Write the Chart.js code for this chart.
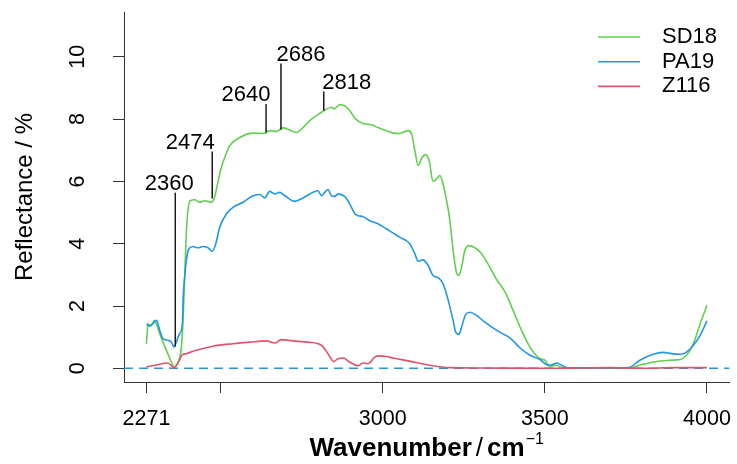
<!DOCTYPE html>
<html>
<head>
<meta charset="utf-8">
<script src="https://cdn.jsdelivr.net/npm/chart.js@4.4.0/dist/chart.umd.min.js"></script>
<style>
html, body { margin: 0; padding: 0; background: #fff; }
</style>
</head>
<body>
<canvas id="mycan1" width="737" height="464"></canvas>
<script>
var FONT = '"Liberation Sans", Arial, sans-serif';

// spectra as [wavenumber, reflectance]
var sd18 = [[2271,0.79],[2276,1.43],[2283,1.38],[2289,1.43],[2296,1.54],[2303,1.38],[2312,1.11],[2322,0.84],[2337,0.47],[2348,0.2],[2356,0.04],[2363,0.1],[2371,0.26],[2379,0.68],[2384,1.54],[2389,2.93],[2394,4.32],[2399,5.06],[2406,5.38],[2420,5.41],[2435,5.33],[2451,5.38],[2461,5.36],[2472,5.33],[2481,5.49],[2492,6.0],[2502,6.45],[2512,6.75],[2528,7.15],[2559,7.41],[2600,7.55],[2636,7.54],[2645,7.6],[2656,7.63],[2672,7.6],[2692,7.72],[2713,7.65],[2734,7.57],[2754,7.73],[2780,8.0],[2811,8.22],[2826,8.32],[2842,8.38],[2850,8.33],[2867,8.46],[2883,8.43],[2898,8.27],[2917,8.0],[2939,7.86],[2965,7.82],[2985,7.73],[3011,7.63],[3032,7.55],[3052,7.54],[3078,7.63],[3089,7.52],[3099,6.99],[3109,6.51],[3119,6.72],[3130,6.86],[3143,6.67],[3155,6.0],[3166,6.08],[3176,6.19],[3186,5.92],[3197,5.38],[3207,4.74],[3217,3.78],[3227,3.09],[3235,2.98],[3243,3.25],[3253,3.78],[3266,3.94],[3284,3.87],[3305,3.68],[3330,3.25],[3351,2.85],[3377,2.45],[3402,1.86],[3428,1.22],[3454,0.68],[3485,0.31],[3500,0.26],[3515,0.06],[3536,0.1],[3552,0.02],[3600,0.01],[3700,0.0],[3762,0.02],[3803,0.13],[3845,0.22],[3886,0.26],[3917,0.28],[3937,0.42],[3958,0.79],[3979,1.43],[4000,2.02]];

var pa19 = [[2271,1.43],[2280,1.35],[2291,1.43],[2302,1.54],[2312,1.22],[2322,0.95],[2337,0.9],[2348,0.84],[2356,0.68],[2363,0.84],[2373,1.11],[2382,1.43],[2384,2.18],[2389,2.93],[2394,3.46],[2402,3.84],[2415,3.91],[2430,3.87],[2445,3.91],[2461,3.87],[2474,3.76],[2485,4.0],[2497,4.53],[2518,4.96],[2538,5.17],[2569,5.33],[2600,5.54],[2621,5.58],[2636,5.47],[2651,5.68],[2667,5.6],[2682,5.65],[2698,5.54],[2728,5.36],[2754,5.47],[2785,5.65],[2800,5.7],[2811,5.54],[2821,5.65],[2831,5.74],[2842,5.54],[2852,5.52],[2862,5.6],[2883,5.51],[2898,5.28],[2914,4.96],[2924,4.9],[2939,4.87],[2960,4.74],[2985,4.64],[3011,4.48],[3032,4.34],[3052,4.21],[3083,4.0],[3099,3.68],[3109,3.44],[3124,3.48],[3140,3.3],[3155,2.98],[3171,2.91],[3186,2.71],[3202,2.18],[3217,1.54],[3225,1.16],[3235,1.09],[3243,1.32],[3256,1.73],[3269,1.8],[3289,1.7],[3315,1.48],[3340,1.3],[3366,1.13],[3392,0.98],[3423,0.66],[3454,0.42],[3485,0.28],[3510,0.1],[3526,0.13],[3536,0.17],[3552,0.1],[3567,0.02],[3620,0.01],[3700,0.01],[3757,0.02],[3793,0.26],[3834,0.45],[3865,0.51],[3891,0.47],[3917,0.45],[3937,0.52],[3958,0.74],[3979,1.06],[4000,1.52]];

var z116 = [[2271,0.04],[2312,0.13],[2337,0.17],[2356,0.02],[2373,0.26],[2380,0.42],[2394,0.47],[2425,0.58],[2476,0.71],[2538,0.79],[2590,0.84],[2641,0.88],[2667,0.81],[2687,0.92],[2723,0.88],[2769,0.84],[2811,0.74],[2831,0.47],[2849,0.22],[2862,0.31],[2878,0.33],[2898,0.2],[2924,0.08],[2939,0.17],[2955,0.15],[2975,0.36],[2990,0.4],[3011,0.38],[3032,0.33],[3083,0.23],[3145,0.1],[3207,0.02],[3300,0.01],[3500,0.0],[3700,0.02],[3800,0.0],[3900,0.02],[4000,0.02]];

var seriesNames = ['SD18', 'PA19', 'Z116'];
var seriesColors = ['#61D04F', '#2297E6', '#DF536B'];

var xTicks = [2271, 2500, 3000, 3500, 4000];
var xTickLabels = ['2271', '', '3000', '3500', '4000'];
var yTicks = [0, 2, 4, 6, 8, 10];

// marked band positions
var peakWn = [2360, 2474, 2640, 2686, 2818];
var peakTop = [5.64, 6.96, 8.49, 9.79, 8.89];
var peakBottom = [0.7, 5.45, 7.57, 7.66, 8.27];
var peakLabelDx = [-6, -22, -20, 20, 23];

// R style 4% axis extension
var xMin = 2271 - 0.04 * (4000 - 2271), xMax = 4000 + 0.04 * (4000 - 2271);
var yMin = -0.44, yMax = 11.44;

function toPts(arr) {
  return arr.map(function (p) { return { x: p[0], y: p[1] }; });
}

function lineSet(label, data, color) {
  return {
    label: label, data: toPts(data), borderColor: color, backgroundColor: color,
    borderWidth: 1.6, pointRadius: 0, fill: false, tension: 0.3, cubicInterpolationMode: 'monotone'
  };
}

var extras = {
  id: 'extras',
  afterDatasetsDraw: function (chart) {
    var ctx = chart.ctx, xs = chart.scales.x, ys = chart.scales.y;
    ctx.save();

    // band markers
    ctx.strokeStyle = '#1a1a1a';
    ctx.lineWidth = 1.5;
    ctx.fillStyle = '#000';
    ctx.font = '22px ' + FONT;
    ctx.textAlign = 'center';
    ctx.textBaseline = 'middle';
    for (var i = 0; i < peakWn.length; i++) {
      var px = xs.getPixelForValue(peakWn[i]);
      var top = ys.getPixelForValue(peakTop[i]);
      ctx.beginPath();
      ctx.moveTo(px, top);
      ctx.lineTo(px, ys.getPixelForValue(peakBottom[i]));
      ctx.stroke();
      ctx.fillText(String(peakWn[i]), px + peakLabelDx[i], top - 8.5);
    }

    // legend
    ctx.textAlign = 'left';
    for (var j = 0; j < seriesNames.length; j++) {
      var ly = 37 + j * 24.7;
      ctx.strokeStyle = seriesColors[j];
      ctx.lineWidth = 1.6;
      ctx.beginPath();
      ctx.moveTo(598, ly);
      ctx.lineTo(640, ly);
      ctx.stroke();
      ctx.fillText(seriesNames[j], 662, ly);
    }

    // tick labels
    ctx.font = '21.5px ' + FONT;
    ctx.textAlign = 'center';
    xTicks.forEach(function (v, k) {
      if (xTickLabels[k]) ctx.fillText(xTickLabels[k], xs.getPixelForValue(v), 419);
    });
    yTicks.forEach(function (v) {
      ctx.save();
      ctx.translate(78, ys.getPixelForValue(v));
      ctx.rotate(-Math.PI / 2);
      ctx.fillText(String(v), 0, 0);
      ctx.restore();
    });

    // y title
    ctx.save();
    ctx.font = '24px ' + FONT;
    ctx.translate(25, (ys.top + ys.bottom) / 2);
    ctx.rotate(-Math.PI / 2);
    ctx.fillText('Reflectance / %', 0, 0);
    ctx.restore();

    // x title with superscript
    var parts = [
      { t: 'Wavenumber', f: 'bold 26px ' + FONT, dy: 0, gap: 4 },
      { t: '/', f: '26px ' + FONT, dy: 0, gap: 4 },
      { t: 'cm', f: 'bold 26px ' + FONT, dy: 0, gap: 1 },
      { t: '\u22121', f: '16px ' + FONT, dy: -12, gap: 0 }
    ];
    var total = 0;
    parts.forEach(function (p) { ctx.font = p.f; p.w = ctx.measureText(p.t).width; total += p.w + p.gap; });
    var tx = (xs.left + xs.right) / 2 - total / 2;
    ctx.textAlign = 'left';
    ctx.textBaseline = 'alphabetic';
    parts.forEach(function (p) {
      ctx.font = p.f;
      ctx.fillText(p.t, tx, 456 + p.dy);
      tx += p.w + p.gap;
    });

    ctx.restore();
  }
};

var ctx = document.getElementById('mycan1').getContext('2d');
var chart = new Chart(ctx, {
  type: 'line',
  data: {
    datasets: [
      lineSet(seriesNames[2], z116, seriesColors[2]),
      lineSet(seriesNames[1], pa19, seriesColors[1]),
      lineSet(seriesNames[0], sd18, seriesColors[0]),
      {
        label: 'zero', data: [{ x: xMin, y: 0 }, { x: xMax, y: 0 }],
        borderColor: '#2297E6', borderWidth: 1.5, borderDash: [9, 6], pointRadius: 0, fill: false
      }
    ]
  },
  plugins: [extras],
  options: {
    responsive: false,
    animation: false,
    devicePixelRatio: 1,
    layout: { padding: { left: 113, right: 7.6, top: 12, bottom: 71 } },
    plugins: { legend: { display: false }, tooltip: { enabled: false } },
    scales: {
      x: {
        type: 'linear', min: xMin, max: xMax,
        afterBuildTicks: function (scale) { scale.ticks = xTicks.map(function (v) { return { value: v }; }); },
        ticks: { display: false },
        grid: { drawOnChartArea: false, drawTicks: true, tickLength: 11, color: '#333', tickColor: '#333' },
        border: { display: true, color: '#333', width: 1 }
      },
      y: {
        type: 'linear', min: yMin, max: yMax,
        afterBuildTicks: function (scale) { scale.ticks = yTicks.map(function (v) { return { value: v }; }); },
        ticks: { display: false },
        grid: { drawOnChartArea: false, drawTicks: true, tickLength: 11, color: '#333', tickColor: '#333' },
        border: { display: true, color: '#333', width: 1 }
      }
    }
  }
});
</script>
</body>
</html>
